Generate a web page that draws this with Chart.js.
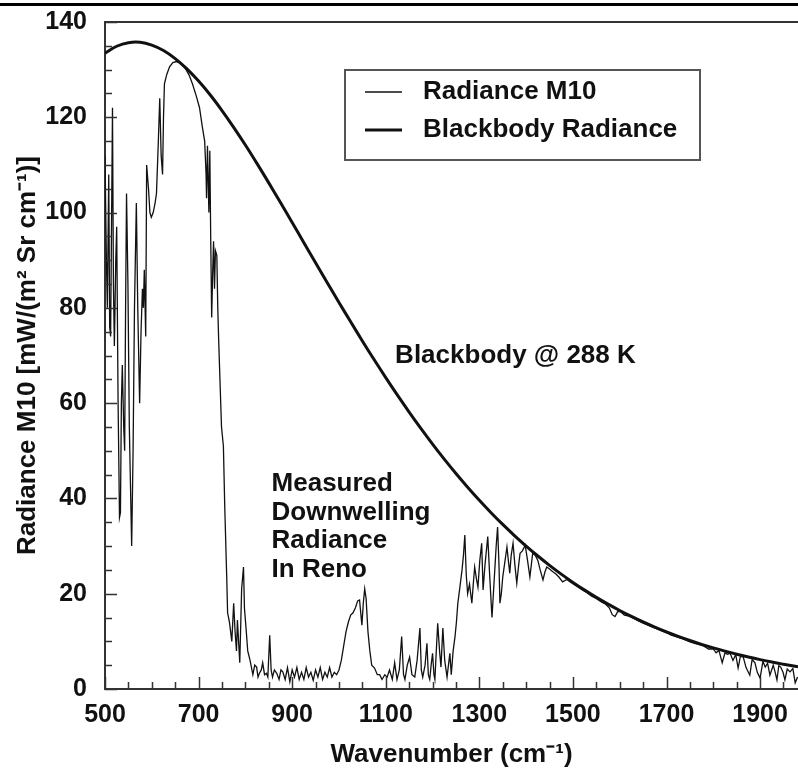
<!DOCTYPE html>
<html>
<head>
<meta charset="utf-8">
<script src="https://cdn.jsdelivr.net/npm/chart.js@4.4.0/dist/chart.umd.min.js"></script>
<style>
  html, body { margin: 0; padding: 0; background: #fff; }
  canvas { display: block; }
</style>
</head>
<body>
<canvas id="chart" width="798" height="770"></canvas>
<script>
// blackbody curve
const bbWave = [500, 525, 550, 575, 600, 625, 650, 675, 700, 725, 750, 775, 800, 825, 850, 875,
  900, 925, 950, 975, 1000, 1025, 1050, 1075, 1100, 1125, 1150, 1175, 1200, 1225, 1250, 1275,
  1300, 1325, 1350, 1375, 1400, 1425, 1450, 1475, 1500, 1525, 1550, 1575, 1600, 1625, 1650,
  1675, 1700, 1725, 1750, 1775, 1800, 1825, 1850, 1875, 1900, 1925, 1950, 1975, 1981];
const bbRad = [133.45, 134.91, 135.66, 135.74, 135.15, 134.01, 132.32, 130.16, 127.59, 124.67,
  121.41, 117.90, 114.18, 110.27, 106.23, 102.10, 97.92, 93.69, 89.47, 85.29, 81.14, 77.07,
  73.06, 69.15, 65.36, 61.67, 58.12, 54.69, 51.40, 48.25, 45.23, 42.35, 39.61, 37.01, 34.54,
  32.21, 30.00, 27.92, 25.96, 24.11, 22.38, 20.76, 19.23, 17.81, 16.48, 15.23, 14.07, 13.00,
  11.99, 11.06, 10.19, 9.38, 8.63, 7.94, 7.30, 6.71, 6.16, 5.65, 5.19, 4.76, 4.66];

// measured spectrum
const mWave = [500, 503, 505, 508, 510, 512, 516, 518, 520, 523, 525, 528, 531, 533, 535, 537,
  540, 542, 544, 546, 549, 552, 555, 557, 560, 563, 567, 570, 574, 577, 580, 582, 584, 587, 589,
  593, 596, 599, 603, 607, 610, 614, 617, 620, 623, 625, 627, 632, 638, 645, 653, 660, 666, 672,
  680, 687, 695, 702, 708, 713, 716, 717, 719, 722, 724, 726, 728, 730, 732, 734, 736, 739, 741,
  743, 749, 753, 756, 760, 762, 766, 771, 775, 778, 781, 783, 788, 792, 796, 798, 802, 805, 810,
  816, 820, 824, 827, 830, 834, 837, 841, 845, 848, 852, 855, 858, 862, 867, 872, 876, 880, 885,
  890, 895, 900, 905, 910, 915, 920, 925, 930, 935, 940, 945, 950, 955, 960, 965, 970, 975, 980,
  985, 990, 995, 1000, 1005, 1010, 1015, 1020, 1025, 1030, 1035, 1040, 1044, 1049, 1052, 1055,
  1058, 1062, 1066, 1070, 1076, 1082, 1087, 1092, 1098, 1103, 1108, 1114, 1119, 1124, 1129, 1134,
  1138, 1141, 1146, 1151, 1156, 1162, 1167, 1173, 1176, 1179, 1184, 1188, 1191, 1194, 1197, 1200,
  1203, 1205, 1208, 1211, 1215, 1218, 1222, 1226, 1231, 1234, 1237, 1240, 1244, 1248, 1251, 1254,
  1258, 1263, 1266, 1269, 1272, 1275, 1279, 1284, 1287, 1290, 1294, 1297, 1301, 1305, 1308, 1312,
  1318, 1322, 1327, 1330, 1333, 1336, 1339, 1342, 1344, 1347, 1350, 1355, 1359, 1362, 1365, 1368,
  1372, 1376, 1380, 1384, 1387, 1392, 1398, 1403, 1408, 1411, 1414, 1420, 1425, 1430, 1436, 1440,
  1444, 1450, 1457, 1463, 1470, 1478, 1487, 1495, 1503, 1512, 1520, 1530, 1540, 1550, 1560, 1570,
  1578, 1584, 1590, 1596, 1602, 1610, 1620, 1630, 1640, 1650, 1660, 1670, 1680, 1690, 1700, 1710,
  1720, 1730, 1740, 1750, 1760, 1770, 1780, 1790, 1800, 1806, 1812, 1819, 1825, 1830, 1836, 1842,
  1848, 1853, 1858, 1864, 1870, 1878, 1883, 1889, 1894, 1900, 1906, 1911, 1916, 1921, 1928, 1932,
  1936, 1940, 1944, 1949, 1953, 1958, 1964, 1970, 1975, 1980];
const mRad = [112, 90, 80, 108, 76, 74, 122, 85, 72, 90, 97, 60, 36, 37, 60, 68,
  55, 50, 80, 104, 85, 55, 40, 30, 50, 80, 102, 80, 60, 75, 84, 80, 88, 74, 110,
  105, 100, 99, 100, 102, 104, 115, 124, 112, 108, 120, 127, 129, 130.6, 131.5, 131.7, 131.4, 131, 130.2,
  128.8, 127, 124.5, 122, 118, 115, 108, 103, 114, 100, 113, 94, 78, 87, 94, 84, 92, 91, 80,
  73, 55, 51, 38, 24, 16, 14, 10, 18, 12, 8, 14.5, 5.5, 21, 25.6, 17, 12, 8, 6,
  3, 5, 4.6, 2.5, 3.3, 4, 5.5, 3, 3.3, 2.5, 11.3, 4, 2.5, 4, 3.3, 2, 4, 3.6, 2,
  4.5, 1.5, 4, 2.5, 4.5, 2, 3.5, 2, 4.5, 2.5, 3.5, 1.8, 4, 2.5, 4.5, 2, 3.5, 2.5, 4.5,
  2.5, 3.5, 3, 4, 6, 9, 12, 14, 15.5, 16, 17, 18.5, 18.7, 13.4, 18, 21,
  19, 12, 8, 5, 4.4, 3, 3, 2, 3, 2.5, 4, 2, 5.5, 2, 4, 11,
  3, 2, 5, 6.7, 3, 2.5, 6, 12.8, 4, 2.5, 5, 9.6, 3, 2, 5, 7.5,
  3, 2, 8, 13.8, 8, 4.6, 12.8, 6, 2.5, 5, 7.5, 3, 8, 11, 14, 18,
  21, 25, 28, 32.3, 24, 20, 22, 18, 22, 25.6, 23, 21.4, 27, 30.6, 20.8, 26,
  32, 24, 15, 20, 25, 30, 34, 26, 18, 20, 23.5, 27, 29.8, 27, 24.3, 28,
  30.6, 26, 22.2, 26, 28.5, 29, 30.2, 27, 23.5, 26, 28.5, 28, 27, 25, 22.9, 24.5,
  25.6, 25.2, 24.6, 24.2, 23.5, 22.5, 23.0, 22.4, 21.9, 21.3, 20.8, 20.2, 19.5, 19.0, 18.3, 17.8,
  17.0, 15.6, 15.2, 16.3, 16.2, 15.5, 15.3, 14.8, 14.3, 13.8, 13.4, 13.0, 12.6, 12.2, 11.8, 11.3,
  11.0, 10.7, 10.3, 9.9, 9.6, 9.3, 9.0, 8.4, 8.4, 7.6, 8.1, 5.5, 7.6, 7.3, 7.5, 6.0,
  7.2, 4.4, 6.9, 6.7, 4.5, 2.9, 6.2, 5.5, 3.5, 2.3, 5.8, 4.6, 5.4, 2.9, 5.0, 3.6,
  1.9, 4.9, 4.6, 3.5, 1.9, 4.2, 3.6, 4.3, 1.3, 2.5];

const xLabelTicks = [500, 700, 900, 1100, 1300, 1500, 1700, 1900];
const yLabelTicks = [0, 20, 40, 60, 80, 100, 120, 140];

const FONT = '"Liberation Sans", Arial, Helvetica, sans-serif';
const INK = '#111';

const toPoints = (xs, ys) => xs.map((x, i) => ({ x: x, y: ys[i] }));

const decor = {
  id: 'decor',
  beforeDraw(chart) {
    const ctx = chart.ctx;
    ctx.save();
    ctx.fillStyle = '#fff';
    ctx.fillRect(0, 0, chart.width, chart.height);
    // rule across the top of the page
    ctx.fillStyle = '#000';
    ctx.fillRect(0, 3, chart.width, 3);
    ctx.restore();
  },
  afterDraw(chart) {
    const { ctx, chartArea: a, scales: { x, y } } = chart;
    ctx.save();
    ctx.strokeStyle = '#333';
    ctx.lineWidth = 1.5;
    ctx.beginPath();
    // inward tick marks
    x.ticks.forEach(t => {
      if (t.value % 50 !== 0) return;
      const px = Math.round(x.getPixelForValue(t.value)) + 0.5;
      const len = xLabelTicks.includes(t.value) ? 12 : 7;
      ctx.moveTo(px, a.bottom);
      ctx.lineTo(px, a.bottom - len);
    });
    y.ticks.forEach(t => {
      const py = Math.round(y.getPixelForValue(t.value)) + 0.5;
      const len = yLabelTicks.includes(t.value) ? 12 : 7;
      ctx.moveTo(a.left, py);
      ctx.lineTo(a.left + len, py);
    });
    ctx.stroke();
    // top edge of the frame
    ctx.lineWidth = 2;
    ctx.beginPath();
    ctx.moveTo(a.left, a.top);
    ctx.lineTo(a.right, a.top);
    ctx.stroke();

    // notes in the plot
    ctx.fillStyle = INK;
    ctx.font = 'bold 26px ' + FONT;
    ctx.textAlign = 'left';
    ctx.textBaseline = 'middle';
    ctx.fillText('Blackbody @ 288 K', x.getPixelForValue(1120), y.getPixelForValue(70));
    const note = ['Measured', 'Downwelling', 'Radiance', 'In Reno'];
    const nx = x.getPixelForValue(856);
    const ny = y.getPixelForValue(43);
    note.forEach((s, i) => ctx.fillText(s, nx, ny + i * 28.5));

    // legend box
    ctx.strokeStyle = '#555';
    ctx.lineWidth = 2;
    ctx.strokeRect(345, 70, 355, 90);
    chart.data.datasets.forEach((ds, i) => {
      const ly = 92 + i * 38;
      ctx.strokeStyle = '#111';
      ctx.lineWidth = ds.borderWidth;
      ctx.beginPath();
      ctx.moveTo(365, ly);
      ctx.lineTo(402, ly);
      ctx.stroke();
      ctx.fillText(ds.label, 423, ly);
    });
    ctx.restore();
  }
};

new Chart(document.getElementById('chart').getContext('2d'), {
  type: 'line',
  data: {
    datasets: [
      {
        label: 'Radiance M10',
        data: toPoints(mWave, mRad),
        borderColor: '#111',
        borderWidth: 1.3,
        pointRadius: 0,
        tension: 0
      },
      {
        label: 'Blackbody Radiance',
        data: toPoints(bbWave, bbRad),
        borderColor: '#111',
        borderWidth: 3,
        pointRadius: 0,
        tension: 0.4
      }
    ]
  },
  options: {
    responsive: false,
    animation: false,
    devicePixelRatio: 1,
    layout: { padding: { top: 22, right: 0, bottom: 0, left: 0 } },
    plugins: { legend: { display: false }, tooltip: { enabled: false } },
    scales: {
      x: {
        type: 'linear',
        min: 500,
        max: 1981,
        afterFit(s) { s.height = 81; s.paddingRight = 0; },
        grid: { display: false, drawTicks: false },
        border: { display: true, color: '#333', width: 2 },
        ticks: {
          stepSize: 50,
          autoSkip: false,
          maxRotation: 0,
          includeBounds: false,
          padding: 11,
          color: INK,
          font: { family: FONT, size: 25, weight: 'bold' },
          callback: v => xLabelTicks.includes(v) ? String(v) : ''
        },
        title: {
          display: true,
          text: 'Wavenumber (cm⁻¹)',
          color: INK,
          font: { family: FONT, size: 26, weight: 'bold' },
          padding: { top: 0, bottom: 0 }
        }
      },
      y: {
        min: 0,
        max: 140,
        afterFit(s) { s.width = 105; s.paddingTop = 0; s.paddingBottom = 0; },
        grid: { display: false, drawTicks: false },
        border: { display: true, color: '#333', width: 2 },
        ticks: {
          stepSize: 5,
          autoSkip: false,
          padding: 18,
          color: INK,
          font: { family: FONT, size: 25, weight: 'bold' },
          callback: v => yLabelTicks.includes(v) ? String(v) : ''
        },
        title: {
          display: true,
          text: 'Radiance M10 [mW/(m² Sr cm⁻¹)]',
          color: INK,
          font: { family: FONT, size: 26, weight: 'bold' },
          padding: { top: 12, bottom: 0 }
        }
      }
    }
  },
  plugins: [decor]
});
</script>
</body>
</html>
